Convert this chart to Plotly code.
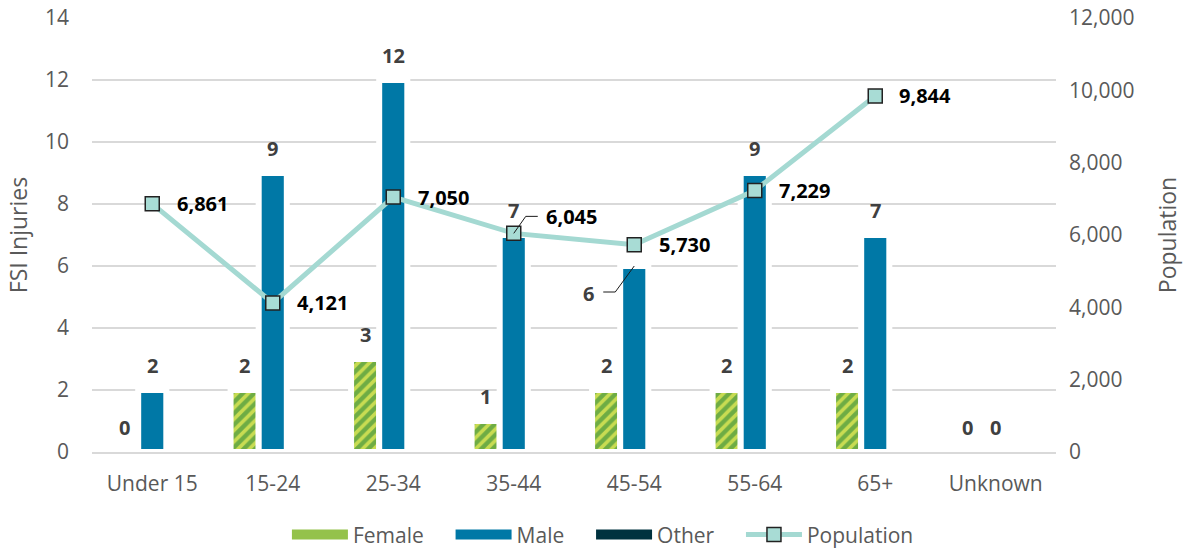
import plotly.graph_objects as go

categories = ["Under 15", "15-24", "25-34", "35-44", "45-54", "55-64", "65+", "Unknown"]
female = [0, 2, 3, 1, 2, 2, 2, 0]
male = [2, 9, 12, 7, 6, 9, 7, 0]
other = [0, 0, 0, 0, 0, 0, 0, 0]
population = [6861, 4121, 7050, 6045, 5730, 7229, 9844, None]

left_ticks = [0, 2, 4, 6, 8, 10, 12, 14]
right_ticks = [0, 2000, 4000, 6000, 8000, 10000, 12000]

FONT = "Open Sans"
GREY = "#595959"
C_FEMALE_BG = "#6eac44"
C_FEMALE_FG = "#c8dc52"
C_MALE = "#0078a6"
C_OTHER = "#00323f"
C_POP = "#a4d9d2"
TICK_SIZE = 21
TITLE_SIZE = 23
LABEL_SIZE = 20
LEGEND_SIZE = 21

fig = go.Figure()

bar_line = dict(color="white", width=6)
fig.add_trace(go.Bar(x=categories, y=female, name="Female", showlegend=False,
                     marker=dict(color=C_FEMALE_BG, line=bar_line,
                                 pattern=dict(shape="/", fgcolor=C_FEMALE_FG, bgcolor=C_FEMALE_BG,
                                              size=8, solidity=0.45, fillmode="replace"))))
fig.add_trace(go.Bar(x=categories, y=male, name="Male", showlegend=False,
                     marker=dict(color=C_MALE, line=bar_line)))
fig.add_trace(go.Bar(x=categories, y=other, name="Other", showlegend=False,
                     marker=dict(color=C_OTHER, line=bar_line)))

fig.add_trace(go.Scatter(x=categories, y=population, name="Population", yaxis="y2",
                         mode="lines+markers", showlegend=False,
                         line=dict(color=C_POP, width=5),
                         marker=dict(symbol="square", size=14, color="#a8dcd5",
                                     line=dict(color="#222222", width=1.5))))

# legend proxies
NB = "\u00a0" * 4
for nm, col in [("Female", "#94c24b"), ("Male", C_MALE), ("Other", C_OTHER)]:
    fig.add_trace(go.Scatter(x=[None], y=[None], mode="lines", name=nm + NB,
                             line=dict(color=col, width=11)))
fig.add_trace(go.Scatter(x=[None], y=[None], mode="lines+markers", name="Population", yaxis="y2",
                         line=dict(color=C_POP, width=5),
                         marker=dict(symbol="square", size=14, color="#a8dcd5",
                                     line=dict(color="#222222", width=1.5))))

annotations = []
bar_label_font = dict(family=FONT, size=LABEL_SIZE, color="#404040", weight="bold")
pop_label_font = dict(family=FONT, size=LABEL_SIZE, color="#000000", weight="bold")

# special label offsets (pixels) for crowded labels
male_offsets = {"45-54": (-46, -27)}
pop_offsets = {"35-44": (58, 17)}

for c, v in zip(categories, female):
    annotations.append(dict(x=c, y=v, xref="x", yref="y", text=str(v), showarrow=False,
                            xshift=-28, yshift=25, font=bar_label_font))
for c, v in zip(categories, male):
    dx, dy = male_offsets.get(c, (0, 25))
    annotations.append(dict(x=c, y=v, xref="x", yref="y", text=str(v), showarrow=False,
                            xshift=dx, yshift=dy, font=bar_label_font))
for c, v in zip(categories, population):
    if v is None:
        continue
    dx, dy = pop_offsets.get(c, (50, 0))
    annotations.append(dict(x=c, y=v, xref="x", yref="y2", text=f"{v:,}", showarrow=False,
                            xshift=dx, yshift=dy, font=pop_label_font))

shapes = []
c = "45-54"
shapes.append(dict(type="path", xref="x", yref="y", xsizemode="pixel", ysizemode="pixel",
                   xanchor=c, yanchor=male[categories.index(c)],
                   path="M0,0 L-19,-26 L-31,-26", line=dict(color="#1a1a1a", width=1)))
c = "35-44"
shapes.append(dict(type="path", xref="x", yref="y2", xsizemode="pixel", ysizemode="pixel",
                   xanchor=c, yanchor=population[categories.index(c)],
                   path="M0,0 L12,17 L24,17", line=dict(color="#1a1a1a", width=1)))

fig.update_layout(
    width=1184, height=550,
    margin=dict(l=92, r=128, t=18, b=98, autoexpand=False),
    paper_bgcolor="white", plot_bgcolor="white",
    font=dict(family=FONT, size=TICK_SIZE, color=GREY),
    barmode="group", bargap=0.30, bargroupgap=0.0,
    showlegend=True,
    legend=dict(orientation="h", x=0.530, xanchor="center", y=-0.191, yanchor="middle",
                font=dict(family=FONT, size=LEGEND_SIZE, color=GREY), itemwidth=56,
                traceorder="normal"),
    xaxis=dict(type="category", showgrid=False, showline=True, linecolor="#d9d9d9",
               linewidth=2, layer="above traces", ticks="", ticklabelstandoff=12,
               automargin=False, tickfont=dict(family=FONT, size=TICK_SIZE, color=GREY)),
    yaxis=dict(range=[0, 14], tickvals=left_ticks, showgrid=True, gridcolor="#d9d9d9",
               gridwidth=1.5, zeroline=False, ticks="", ticklabelstandoff=22,
               automargin=False, tickfont=dict(family=FONT, size=TICK_SIZE, color=GREY),
               title=dict(text="FSI Injuries", standoff=10,
                          font=dict(family=FONT, size=TITLE_SIZE, color=GREY))),
    yaxis2=dict(range=[0, 12000], tickvals=right_ticks, tickformat=",", overlaying="y",
                side="right", showgrid=False, zeroline=False, ticks="", ticklabelstandoff=12,
                automargin=False, tickfont=dict(family=FONT, size=TICK_SIZE, color=GREY),
                title=dict(text="Population", standoff=26,
                           font=dict(family=FONT, size=TITLE_SIZE, color=GREY))),
    annotations=annotations,
    shapes=shapes,
)

fig.write_html("out.html")
